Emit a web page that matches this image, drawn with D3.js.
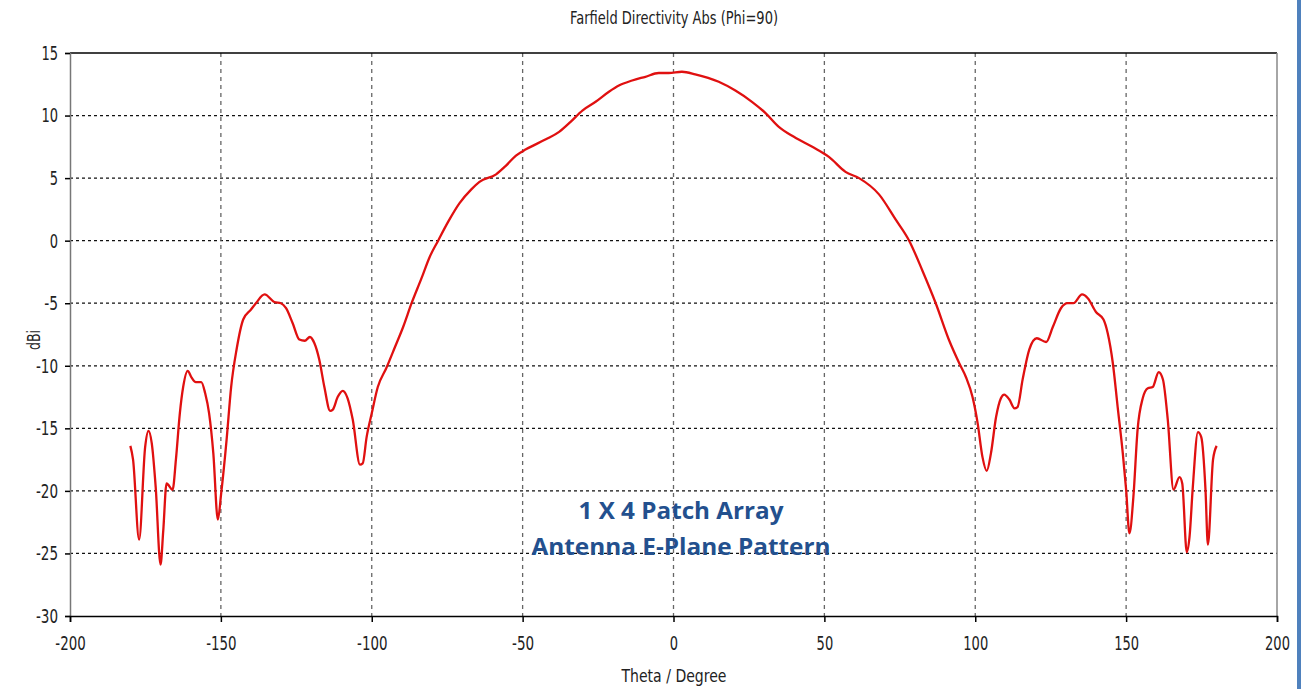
<!DOCTYPE html>
<head>
  <meta charset="utf-8">
  <script src="https://cdn.jsdelivr.net/npm/d3@7"></script>
  <style>
    body { margin: 0; background: #fff; }
    .tick text, .lbl { font-family: "DejaVu Sans", sans-serif; fill: #222; }
  </style>
</head>
<body>
  <svg width="1301" height="689"></svg>
  <script>

  // theta in degrees, directivity in dBi
  var theta = [-180,-179.1,-177.1,-175.1,-174,-172.9,-171.6,-170,-169.1,-168,-166,-164.9,-163.6,-162.5,-161,-159.8,
    -158.3,-156.5,-155.2,-153.9,-152.5,-151,-149.9,-148.1,-146.6,-144.8,-142.6,-140,-138.4,-135.5,-132.3,-130.1,
    -128.4,-126.2,-124,-122.2,-120.5,-119,-117.4,-115.7,-113.8,-112.9,-111.3,-109.6,-108,-106.3,-103.9,-103,-101.7,
    -100,-98,-95.2,-92.3,-89.6,-86.8,-83.5,-80.8,-78,-74.7,-70.9,-67,-64.3,-58.8,-55.5,-52.2,-48.9,-42.3,-37.9,
    -34.1,-30.2,-25.8,-21.4,-18.1,-13.7,-9.3,-4.9,-1.6,2.8,7.2,15,20.5,26,30.5,34.9,39.9,46,51.5,57,61.5,68.1,73.6,
    78.1,82.5,86.9,91.4,94.7,96.9,99.1,100.8,102.4,103.8,105.2,106.9,108.5,109.6,111.3,113,114,115.7,117.9,120.4,
    123.5,125.7,128.4,130.6,132.5,135.4,137.3,140,142.5,143.9,145.6,147.2,148.9,150,151.1,152.4,153.8,155.5,157.2,
    158.8,160.8,162.2,163.8,165.7,167.7,168.6,170.1,171,172.1,173.8,174.9,176.3,177.1,178.8,180];

  var dbi = [-16.4,-17.5,-23.9,-16.5,-15.2,-16.2,-19.7,-25.9,-23.2,-19.4,-19.9,-17.5,-13.8,-11.7,-10.4,-10.9,
    -11.3,-11.3,-12.2,-13.8,-17,-22.3,-20.2,-15.9,-11.7,-8.7,-6.3,-5.5,-5,-4.3,-4.9,-5,
    -5.4,-6.6,-7.9,-8,-7.7,-8.2,-9.5,-11.7,-13.6,-13.5,-12.5,-12,-12.6,-14.3,-17.9,-17.8,-15.7,
    -13.8,-11.7,-10.2,-8.5,-6.9,-5,-3,-1.3,0,1.5,3,4.1,4.7,5.3,6,6.8,7.3,8.1,8.7,
    9.5,10.4,11.1,11.9,12.4,12.8,13.1,13.4,13.4,13.5,13.3,12.7,12.0,11.1,10.2,9.1,8.3,7.5,6.7,5.5,5.0,3.7,1.7,
    0,-2.4,-5,-8.0,-9.8,-10.9,-12.5,-14.6,-17.3,-18.4,-17,-14.1,-12.6,-12.3,-12.7,-13.4,-13.3,-11.1,-8.7,-7.8,
    -8.1,-6.9,-5.4,-5,-5,-4.3,-4.6,-5.7,-6.3,-7.4,-9.8,-13.3,-17,-19.9,-23.4,-20.5,-15.1,-12.6,-11.8,
    -11.7,-10.5,-11.1,-14.3,-19.9,-18.9,-19.4,-24.9,-23.7,-19.7,-15.3,-15.7,-19.9,-24.3,-17.5,-16.4];

  var xTicks = [-200, -150, -100, -50, 0, 50, 100, 150, 200];
  var yTicks = [-30, -25, -20, -15, -10, -5, 0, 5, 10, 15];
  var note = ["1 X 4 Patch Array", "Antenna E-Plane Pattern"];

  var svg = d3.select("svg"),
      width = +svg.attr("width"),
      height = +svg.attr("height");

  var x = d3.scaleLinear().domain([-200, 200]).range([70, 1277]);
  var y = d3.scaleLinear().domain([-30, 15]).range([616, 53]);

  // squeeze text to look like the narrow font of the original
  function narrow(sel) {
    sel.each(function() {
      var s = this.textContent;
      var w = s.replace(/-/g, "").length * 8.3 + (s.indexOf("-") >= 0 ? 5.5 : 0);
      d3.select(this).attr("textLength", w).attr("lengthAdjust", "spacingAndGlyphs");
    });
  }

  // blue strip on the right edge
  svg.append("rect")
      .attr("x", 1297).attr("y", 0)
      .attr("width", 4).attr("height", height)
      .attr("fill", "#4f81bd");

  // grid
  svg.append("g")
    .selectAll("line")
    .data(yTicks.slice(1, -1))
    .enter().append("line")
      .attr("x1", x(-200)).attr("x2", x(200))
      .attr("y1", function(d) { return y(d); })
      .attr("y2", function(d) { return y(d); })
      .attr("stroke", "#111")
      .attr("stroke-width", 1.3)
      .attr("stroke-dasharray", "3,3");

  svg.append("g")
    .selectAll("line")
    .data(xTicks.slice(1, -1))
    .enter().append("line")
      .attr("x1", function(d) { return x(d); })
      .attr("x2", function(d) { return x(d); })
      .attr("y1", y(15)).attr("y2", y(-30))
      .attr("stroke", "#666")
      .attr("stroke-width", 1.3)
      .attr("stroke-dasharray", "4,4");

  // frame: black top/bottom, grey sides
  svg.append("line")
      .attr("x1", x(-200)).attr("x2", x(200))
      .attr("y1", y(15)).attr("y2", y(15))
      .attr("stroke", "#000").attr("stroke-width", 1.5);
  svg.append("line")
      .attr("x1", x(200)).attr("x2", x(200))
      .attr("y1", y(15)).attr("y2", y(-30))
      .attr("stroke", "#888").attr("stroke-width", 1.5);

  var yAxis = svg.append("g")
      .attr("transform", "translate(" + x(-200) + ",0)")
      .call(d3.axisLeft(y).tickValues(yTicks).tickSize(5).tickPadding(7)
        .tickFormat(function(d) { return String(d); }));
  yAxis.select(".domain").attr("stroke", "#777").attr("stroke-width", 1.5);
  yAxis.selectAll(".tick line").attr("stroke", "#000").attr("stroke-width", 1.5);
  yAxis.selectAll(".tick text").attr("font-size", 20).call(narrow);

  var xAxis = svg.append("g")
      .attr("transform", "translate(0," + y(-30) + ")")
      .call(d3.axisBottom(x).tickValues(xTicks).tickSize(6).tickPadding(14)
        .tickFormat(function(d) { return String(d); }));
  xAxis.select(".domain").attr("stroke", "#000").attr("stroke-width", 1.5);
  xAxis.selectAll(".tick line").attr("stroke", "#000").attr("stroke-width", 1.5);
  xAxis.selectAll(".tick text").attr("font-size", 20).call(narrow);

  // curve
  var line = d3.line()
      .x(function(d, i) { return x(theta[i]); })
      .y(function(d) { return y(d); })
      .curve(d3.curveMonotoneX);

  svg.append("path")
      .datum(dbi)
      .attr("fill", "none")
      .attr("stroke", "#e01010")
      .attr("stroke-width", 2.3)
      .attr("stroke-linejoin", "round")
      .attr("d", line);

  // titles
  svg.append("text")
      .attr("class", "lbl")
      .attr("x", 674).attr("y", 24)
      .attr("text-anchor", "middle")
      .attr("font-size", 17)
      .attr("textLength", 208).attr("lengthAdjust", "spacingAndGlyphs")
      .text("Farfield Directivity Abs (Phi=90)");

  svg.append("text")
      .attr("class", "lbl")
      .attr("x", 674).attr("y", 682)
      .attr("text-anchor", "middle")
      .attr("font-size", 18)
      .attr("textLength", 105).attr("lengthAdjust", "spacingAndGlyphs")
      .text("Theta / Degree");

  svg.append("text")
      .attr("class", "lbl")
      .attr("transform", "translate(40,340) rotate(-90)")
      .attr("text-anchor", "middle")
      .attr("font-size", 17)
      .attr("textLength", 20).attr("lengthAdjust", "spacingAndGlyphs")
      .text("dBi");

  var noteWidth = [205, 299];
  svg.append("g")
    .selectAll("text")
    .data(note)
    .enter().append("text")
      .attr("x", 681)
      .attr("y", function(d, i) { return 519 + i * 36; })
      .attr("text-anchor", "middle")
      .attr("font-family", "'Open Sans', Lato, sans-serif")
      .attr("font-weight", "bold")
      .attr("font-size", 24)
      .attr("textLength", function(d, i) { return noteWidth[i]; })
      .attr("lengthAdjust", "spacingAndGlyphs")
      .attr("fill", "#23508e")
      .text(function(d) { return d; });

  </script>
</body>
